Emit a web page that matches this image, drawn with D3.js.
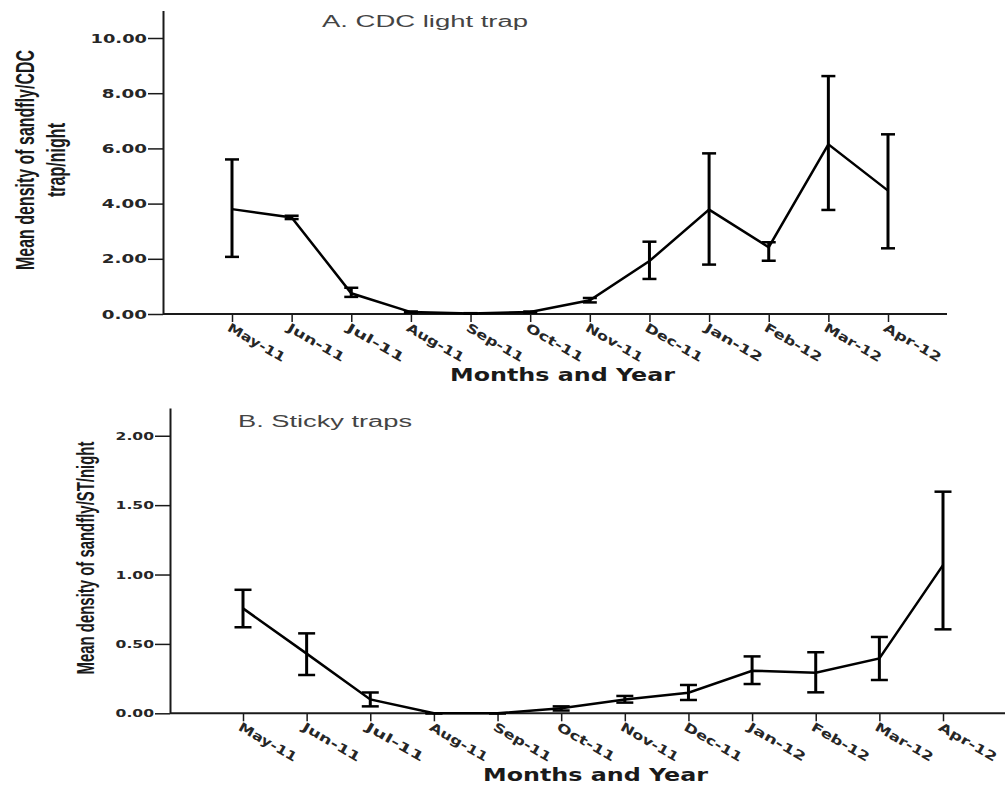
<!DOCTYPE html>
<html>
<head>
<meta charset="utf-8">
<script src="https://cdn.jsdelivr.net/npm/d3@7"></script>
<style>
  html, body { margin: 0; padding: 0; background: #fff; }
  svg { display: block; }
</style>
</head>
<body>
<svg id="chart" width="1008" height="786"></svg>
<script>
// ---- Data ----
const months = ["May-11","Jun-11","Jul-11","Aug-11","Sep-11","Oct-11","Nov-11","Dec-11","Jan-12","Feb-12","Mar-12","Apr-12"];

// Panel A: CDC light trap
const cdcMean = [3.80, 3.50, 0.75, 0.07, 0.02, 0.07, 0.50, 1.92, 3.78, 2.42, 6.15, 4.47];
const cdcLow  = [2.07, 3.44, 0.62, 0.05, 0.01, 0.05, 0.42, 1.27, 1.79, 1.93, 3.77, 2.38];
const cdcHigh = [5.60, 3.56, 0.95, 0.09, 0.03, 0.09, 0.58, 2.62, 5.82, 2.60, 8.62, 6.51];
const cdcTicks = [0, 2, 4, 6, 8, 10];

// Panel B: Sticky traps
const stMean = [0.756, 0.43, 0.10, 0.00, 0.00, 0.036, 0.10, 0.148, 0.307, 0.293, 0.396, 1.068];
const stLow  = [0.62, 0.276, 0.05, 0.00, 0.00, 0.02, 0.077, 0.096, 0.211, 0.151, 0.24, 0.605];
const stHigh = [0.89, 0.576, 0.15, 0.00, 0.00, 0.05, 0.125, 0.204, 0.41, 0.44, 0.55, 1.597];
const stTicks = [0, 0.5, 1.0, 1.5, 2.0];

const titleA = "A. CDC light trap";
const titleB = "B. Sticky traps";
const xTitle = "Months and Year";
const yTitleA = ["Mean density of sandfly/CDC", "trap/night"];
const yTitleB = "Mean density of sandfly/ST/night";

// ---- Drawing ----
const svg = d3.select("#chart");
const ink = "#1a1a1a";

function panel(cfg) {
  const g = svg.append("g");
  const x = d3.scalePoint().domain(months).range([cfg.x0, cfg.x1]);
  const y = d3.scaleLinear().domain([0, cfg.yMax]).range([cfg.yBase, cfg.yTop]);

  // Y axis
  const ya = g.append("g")
    .attr("transform", `translate(${cfg.axisX},0)`)
    .call(d3.axisLeft(y).tickValues(cfg.ticks).tickFormat(d3.format(".2f"))
      .tickSize(cfg.ytickSize).tickPadding(1).tickSizeOuter(0));
  ya.select(".domain").attr("stroke", ink).attr("stroke-width", 2);
  ya.selectAll(".tick line").attr("stroke", ink).attr("stroke-width", 1.5);
  ya.selectAll(".tick text")
    .attr("fill", "#262626")
    .style("font-family", "'DejaVu Sans', sans-serif")
    .style("font-weight", "bold")
    .style("font-size", cfg.ytickFont + "px")
    .attr("textLength", d => d3.format(".2f")(d).length * cfg.ytickChar)
    .attr("lengthAdjust", "spacingAndGlyphs");

  // X axis
  const xa = g.append("g")
    .attr("transform", `translate(0,${cfg.yBase})`)
    .call(d3.axisBottom(x).tickSize(8).tickPadding(0).tickSizeOuter(0));
  xa.select(".domain").remove();
  xa.append("line")
    .attr("x1", cfg.axisX).attr("x2", cfg.axisEnd)
    .attr("y1", 0).attr("y2", 0)
    .attr("stroke", ink).attr("stroke-width", 2);
  xa.selectAll(".tick line").attr("stroke", ink).attr("stroke-width", 1.5);
  xa.selectAll(".tick text")
    .attr("fill", "#262626")
    .attr("text-anchor", "start")
    .attr("x", 3).attr("y", 7).attr("dy", "0.8em")
    .attr("transform", "rotate(30)")
    .style("font-family", "'DejaVu Sans', sans-serif")
    .style("font-weight", "bold")
    .style("font-size", "12.5px")
    .attr("textLength", d => d.length * cfg.xtickChar)
    .attr("lengthAdjust", "spacingAndGlyphs");

  // Error bars
  const eb = g.append("g");
  months.forEach((m, i) => {
    const cx = x(m);
    eb.append("line").attr("x1", cx).attr("x2", cx)
      .attr("y1", y(cfg.low[i])).attr("y2", y(cfg.high[i]))
      .attr("stroke", "#000").attr("stroke-width", 3);
    [cfg.low[i], cfg.high[i]].forEach(v => {
      eb.append("line").attr("x1", cx - cfg.cap / 2).attr("x2", cx + cfg.cap / 2)
        .attr("y1", y(v)).attr("y2", y(v))
        .attr("stroke", "#000").attr("stroke-width", 2.5);
    });
  });

  // Mean line
  g.append("path")
    .datum(cfg.mean)
    .attr("fill", "none").attr("stroke", "#000").attr("stroke-width", 2.5)
    .attr("stroke-linejoin", "miter")
    .attr("d", d3.line().x((d, i) => x(months[i])).y(d => y(d)));

  // Panel title
  g.append("text")
    .attr("x", cfg.titleX).attr("y", cfg.titleY)
    .attr("fill", "#444")
    .style("font-family", "'Liberation Sans', Arial, sans-serif")
    .style("font-size", "16px")
    .attr("textLength", cfg.titleLen).attr("lengthAdjust", "spacingAndGlyphs")
    .text(cfg.title);

  // X title
  g.append("text")
    .attr("x", cfg.xTitleX).attr("y", cfg.xTitleY)
    .attr("fill", ink)
    .style("font-family", "'DejaVu Sans', sans-serif")
    .style("font-weight", "bold")
    .style("font-size", "17.5px")
    .attr("textLength", 225).attr("lengthAdjust", "spacingAndGlyphs")
    .text(xTitle);

  // Y title (rotated, horizontally condensed to the target length via scale)
  const yt = g.append("g").attr("transform", `translate(${cfg.yTitleX},${cfg.yTitleY}) rotate(-90)`);
  cfg.yTitle.forEach((t, k) => {
    const tx = yt.append("text")
      .attr("x", 0).attr("y", 0)
      .attr("text-anchor", "middle")
      .attr("fill", ink)
      .style("font-family", "'Liberation Sans Narrow', 'Liberation Sans', Arial, sans-serif")
      .style("font-weight", "bold")
      .style("font-size", cfg.yTitleFont + "px")
      .text(t);
    const w = tx.node().getComputedTextLength();
    const sx = cfg.yTitleLen[k] / w;
    tx.attr("transform", `translate(0,${k * 31}) scale(${sx},1)`);
  });
}

panel({
  x0: 232, x1: 888, axisX: 163, axisEnd: 947,
  yBase: 314, yTop: 10.4, yMax: 11, ticks: cdcTicks,
  ytickSize: 15, ytickFont: 12.5, ytickChar: 11.3, xtickChar: 10.7,
  mean: cdcMean, low: cdcLow, high: cdcHigh, cap: 14,
  title: titleA, titleX: 322, titleY: 27, titleLen: 206,
  xTitleX: 450, xTitleY: 381,
  yTitle: yTitleA, yTitleX: 34, yTitleY: 160, yTitleLen: [220, 74], yTitleFont: 25
});

panel({
  x0: 243, x1: 943, axisX: 170, axisEnd: 1005,
  yBase: 713.3, yTop: 408, yMax: 2.2, ticks: stTicks,
  ytickSize: 15, ytickFont: 11, ytickChar: 9.6, xtickChar: 10.8,
  mean: stMean, low: stLow, high: stHigh, cap: 17,
  title: titleB, titleX: 238, titleY: 427, titleLen: 174,
  xTitleX: 483, xTitleY: 781,
  yTitle: [yTitleB], yTitleX: 94, yTitleY: 558, yTitleLen: [233], yTitleFont: 24
});
</script>
</body>
</html>
